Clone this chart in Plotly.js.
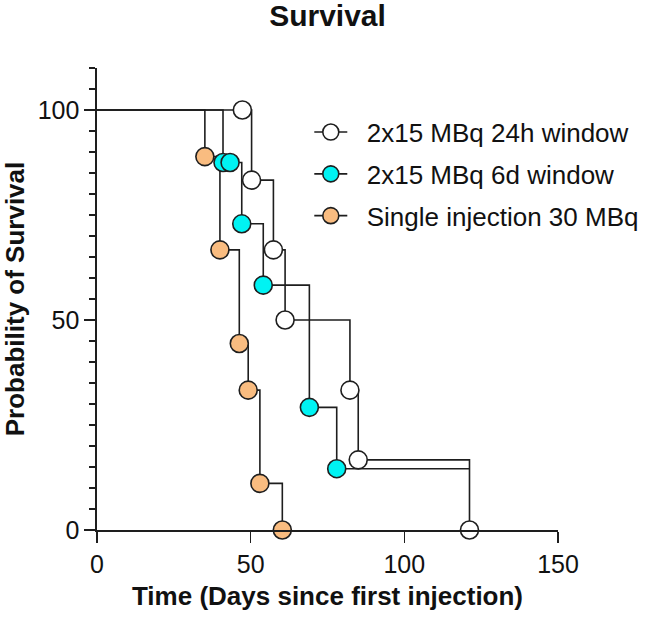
<!DOCTYPE html>
<html>
<head>
<meta charset="utf-8">
<script src="https://cdn.plot.ly/plotly-3.0.1.min.js"></script>
<style>
  html, body { margin: 0; padding: 0; background: #ffffff; }
  #chart { width: 646px; height: 619px; }
</style>
</head>
<body>
<div id="chart"></div>
<script>
// Kaplan-Meier survival curves (percent surviving vs. days since first injection).
// Each path starts at day 0 / 100 %; censored subjects appear as points on a flat step.
const seriesNames = ['2x15 MBq 24h window', '2x15 MBq 6d window', 'Single injection 30 MBq'];

const days24h = [0, 47.3, 50.3, 57.4, 61.2, 82.3, 85.0, 121.2];
const surv24h = [100, 100, 83.3, 66.7, 50, 33.3, 16.7, 0];
const mark24h = [false, true, true, true, true, true, true, true];

const days6d = [0, 41.0, 43.3, 47.1, 54.1, 69.1, 78.0, 121.2];
const surv6d = [100, 87.5, 87.5, 72.9, 58.3, 29.2, 14.6, 14.6];
const mark6d = [false, true, true, true, true, true, true, false];

const daysSingle = [0, 35.1, 40.0, 46.3, 49.2, 53.0, 60.3];
const survSingle = [100, 88.9, 66.7, 44.4, 33.3, 11.1, 0];
const markSingle = [false, true, true, true, true, true, true];

const fills = ['#ffffff', '#00f3f3', '#f9bc80'];
const ink = '#1e1e1e';
const textInk = '#111111';
const font = "Arial, 'Liberation Sans', sans-serif";
const symbolSize = 18;
const strokeW = 1.6;
const keyPad = '\u00a0\u00a0'; // gap between legend key and label

const series = [
  { name: seriesNames[0], days: days24h, surv: surv24h, marks: mark24h, fill: fills[0] },
  { name: seriesNames[1], days: days6d, surv: surv6d, marks: mark6d, fill: fills[1] },
  { name: seriesNames[2], days: daysSingle, surv: survSingle, marks: markSingle, fill: fills[2] }
];

const markerStyle = fill => ({
  symbol: 'circle', size: symbolSize, color: fill,
  line: { color: ink, width: strokeW }
});

// step lines first, so every symbol sits on top of all lines
const stepTraces = series.map(s => ({
  type: 'scatter', mode: 'lines', showlegend: false, hoverinfo: 'skip',
  x: s.days, y: s.surv,
  line: { shape: 'hv', color: ink, width: strokeW }
}));

const pointTraces = series.map(s => ({
  type: 'scatter', mode: 'markers', showlegend: false, cliponaxis: false,
  x: s.days.filter((_, i) => s.marks[i]),
  y: s.surv.filter((_, i) => s.marks[i]),
  marker: markerStyle(s.fill)
}));

// legend entries (line + symbol key)
const keyTraces = series.map((s, i) => ({
  type: 'scatter', mode: 'lines+markers', name: keyPad + s.name, legendgroup: 'g' + i,
  x: [null], y: [null],
  line: { color: ink, width: strokeW },
  marker: markerStyle(s.fill)
}));

const layout = {
  width: 646,
  height: 619,
  paper_bgcolor: '#ffffff',
  plot_bgcolor: '#ffffff',
  margin: { l: 97, r: 88, t: 68, b: 89, autoexpand: false },
  font: { family: font, color: textInk, size: 25 },
  title: {
    text: '<b>Survival</b>',
    font: { family: font, size: 30, color: textInk },
    x: 0.5, xref: 'paper', xanchor: 'center',
    y: 0.975, yref: 'container', yanchor: 'middle'
  },
  showlegend: true,
  legend: {
    x: 0.4605, xanchor: 'left',
    y: 0.912, yanchor: 'top',
    bgcolor: 'rgba(0,0,0,0)',
    borderwidth: 0,
    font: { family: font, size: 26, color: textInk },
    traceorder: 'grouped',
    tracegroupgap: 5,
    itemwidth: 33
  },
  xaxis: {
    range: [0, 150],
    tick0: 0, dtick: 50,
    ticks: 'outside', ticklen: 11, tickwidth: strokeW, tickcolor: ink,
    showline: true, linecolor: ink, linewidth: strokeW,
    showgrid: false, zeroline: false,
    tickfont: { family: font, size: 25, color: textInk },
    title: {
      text: '<b>Time (Days since first injection)</b>',
      font: { family: font, size: 26, color: textInk },
      standoff: 10
    }
  },
  yaxis: {
    range: [0, 110],
    tickvals: [0, 50, 100],
    ticks: 'outside', ticklen: 11, tickwidth: strokeW, tickcolor: ink,
    minor: { tick0: 0, dtick: 5, ticks: 'outside', ticklen: 6, tickwidth: 1.4, tickcolor: ink },
    showline: true, linecolor: ink, linewidth: strokeW,
    showgrid: false, zeroline: false,
    tickfont: { family: font, size: 25, color: textInk },
    title: {
      text: '<b>Probability of Survival</b>',
      font: { family: font, size: 26, color: textInk },
      standoff: 8
    }
  }
};

Plotly.newPlot('chart', stepTraces.concat(pointTraces, keyTraces), layout,
  { staticPlot: true, displayModeBar: false });
</script>
</body>
</html>
